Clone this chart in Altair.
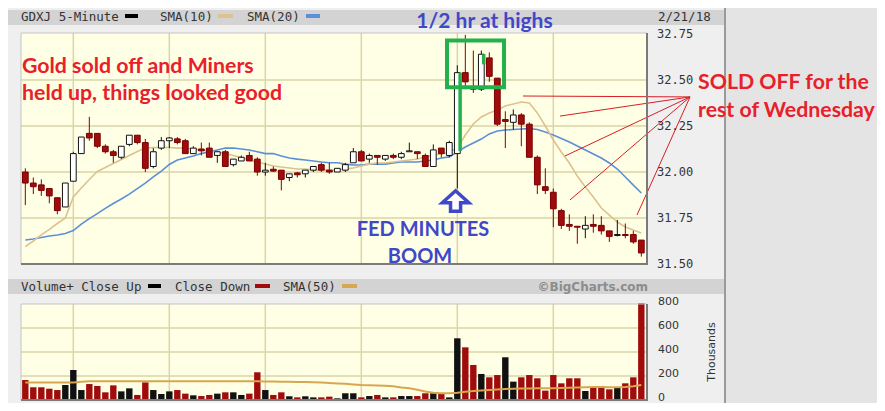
import altair as alt
import pandas as pd

# ---------------- data ----------------
opens = [32.00, 31.94, 31.93, 31.91, 31.86, 31.81, 31.95, 32.10, 32.21, 32.21,
         32.14, 32.11, 32.08, 32.15, 32.20, 32.16, 32.03, 32.13, 32.17, 32.18,
         32.17, 32.10, 32.125, 32.13, 32.09, 32.11, 32.04, 32.06, 32.09, 32.07,
         32.00, 32.015, 32.01, 31.97, 31.995, 31.99, 32.01, 32.04, 32.01, 32.00,
         32.01, 32.05, 32.11, 32.07, 32.09, 32.07, 32.09, 32.08, 32.11, 32.11,
         32.09, 32.03, 32.13, 32.09, 32.10, 32.54, 32.455, 32.45, 32.62, 32.51,
         32.285, 32.27, 32.31, 32.26, 32.08, 31.92, 31.89, 31.79, 31.715, 31.705,
         31.69, 31.715, 31.71, 31.68, 31.655, 31.66, 31.66, 31.63]
highs = [32.02, 31.97, 31.96, 31.91, 31.86, 31.94, 32.11, 32.19, 32.30, 32.21,
         32.15, 32.12, 32.14, 32.20, 32.20, 32.18, 32.13, 32.19, 32.19, 32.19,
         32.18, 32.14, 32.16, 32.16, 32.11, 32.12, 32.07, 32.09, 32.11, 32.08,
         32.05, 32.03, 32.01, 31.99, 32.00, 32.01, 32.03, 32.05, 32.05, 32.02,
         32.05, 32.13, 32.12, 32.10, 32.09, 32.09, 32.10, 32.11, 32.16, 32.11,
         32.10, 32.15, 32.13, 32.17, 32.58, 32.745, 32.66, 32.66, 32.65, 32.51,
         32.33, 32.34, 32.32, 32.27, 32.09, 32.02, 31.91, 31.80, 31.77, 31.705,
         31.76, 31.77, 31.76, 31.68, 31.74, 31.72, 31.68, 31.63]
lows = [31.82, 31.88, 31.87, 31.83, 31.77, 31.81, 31.95, 32.10, 32.17, 32.13,
        32.10, 32.05, 32.07, 32.14, 32.15, 32.00, 32.02, 32.12, 32.13, 32.15,
        32.10, 32.10, 32.09, 32.08, 32.05, 32.03, 32.03, 32.06, 32.06, 31.98,
        31.98, 32.00, 31.90, 31.95, 31.97, 31.97, 32.00, 32.00, 31.99, 32.00,
        32.00, 32.05, 32.06, 32.05, 32.04, 32.06, 32.07, 32.07, 32.11, 32.07,
        32.03, 32.03, 32.08, 32.08, 31.91, 32.45, 32.43, 32.44, 32.49, 32.25,
        32.13, 32.23, 32.14, 32.08, 31.88, 31.88, 31.70, 31.69, 31.68, 31.61,
        31.64, 31.67, 31.66, 31.62, 31.65, 31.64, 31.61, 31.54]
closes = [31.94, 31.92, 31.90, 31.87, 31.79, 31.94, 32.10, 32.19, 32.185, 32.14,
          32.11, 32.09, 32.14, 32.20, 32.16, 32.02, 32.11, 32.17, 32.185, 32.16,
          32.10, 32.13, 32.115, 32.08, 32.11, 32.03, 32.07, 32.08, 32.06, 32.00,
          32.01, 32.005, 31.96, 31.99, 31.985, 32.01, 32.03, 32.01, 32.00, 32.02,
          32.04, 32.11, 32.06, 32.09, 32.08, 32.09, 32.08, 32.10, 32.115, 32.10,
          32.03, 32.12, 32.10, 32.16, 32.54, 32.49, 32.45, 32.64, 32.52, 32.26,
          32.275, 32.31, 32.26, 32.08, 31.93, 31.90, 31.80, 31.71, 31.705, 31.70,
          31.71, 31.705, 31.68, 31.65, 31.66, 31.655, 31.62, 31.56]
sma10 = [31.594, 31.625, 31.658, 31.688, 31.72, 31.75, 31.864, 31.913, 31.959, 32.003,
         32.024, 32.046, 32.068, 32.09, 32.111, 32.13, 32.133, 32.133, 32.133, 32.13,
         32.13, 32.125, 32.12, 32.114, 32.109, 32.101, 32.09, 32.079, 32.065, 32.054,
         32.043, 32.033, 32.027, 32.022, 32.016, 32.016, 32.011, 32.011, 32.011, 32.011,
         32.016, 32.022, 32.033, 32.043, 32.049, 32.049, 32.054, 32.06, 32.065, 32.071,
         32.082, 32.092, 32.098, 32.109, 32.13, 32.201, 32.261, 32.299, 32.321, 32.337,
         32.359, 32.37, 32.38, 32.375, 32.321, 32.25, 32.174, 32.109, 32.049, 31.978,
         31.918, 31.864, 31.804, 31.766, 31.728, 31.701, 31.685, 31.668]
sma20 = [31.63, 31.636, 31.644, 31.652, 31.658, 31.666, 31.682, 31.717, 31.747, 31.774,
         31.802, 31.829, 31.853, 31.88, 31.91, 31.94, 31.973, 32.005, 32.041, 32.065,
         32.076, 32.087, 32.10, 32.11, 32.12, 32.13, 32.13, 32.125, 32.12, 32.11,
         32.10, 32.10, 32.087, 32.076, 32.07, 32.065, 32.06, 32.054, 32.05, 32.05,
         32.043, 32.038, 32.038, 32.043, 32.043, 32.043, 32.049, 32.054, 32.054, 32.054,
         32.06, 32.065, 32.076, 32.082, 32.109, 32.136, 32.158, 32.179, 32.207, 32.223,
         32.228, 32.231, 32.234, 32.236, 32.231, 32.217, 32.201, 32.182, 32.163, 32.141,
         32.12, 32.098, 32.076, 32.049, 32.016, 31.973, 31.929, 31.886]
volumes = [167, 106, 106, 94, 83, 125, 250, 83, 133, 117,
           64, 122, 72, 97, 42, 147, 83, 50, 72, 83,
           53, 39, 33, 42, 53, 64, 64, 42, 53, 231,
           83, 42, 64, 31, 22, 31, 22, 22, 28, 14,
           56, 56, 22, 33, 42, 22, 22, 33, 33, 33,
           56, 56, 56, 22, 514, 439, 292, 217, 189, 208,
           356, 153, 189, 208, 181, 78, 208, 139, 181, 181,
           75, 103, 111, 89, 106, 139, 189, 806]
vol_sma50 = [145, 145, 145, 145, 145, 145, 145, 152, 157, 157,
             157, 157, 157, 157, 157, 157, 157, 157, 157, 157,
             157, 157, 157, 157, 157, 157, 157, 157, 157, 157,
             155, 154, 153, 152, 150, 150, 148, 146, 142, 138,
             135, 130, 125, 122, 120, 118, 115, 105, 98, 85,
             70, 60, 57, 56, 60, 68, 75, 80, 84, 88,
             92, 94, 95, 96, 97, 97, 98, 100, 102, 104,
             106, 108, 108, 107, 106, 108, 115, 125]
price_ticks = [31.50, 31.75, 32.00, 32.25, 32.50, 32.75]
volume_ticks = [0, 200, 400, 600, 800]
hour_bars = [6, 18, 30, 42, 54, 66]   # 10:00 ... 15:00 bars

# ---------------- styling ----------------
W, H = 626, 367
P_TOP, P_BOT = 0, 231
V_TOP, V_BOT = 271, 367
CREAM = "#ffffe6"
GRID = "#d9d5a6"
RED = "#a00c0c"
TAN = "#dcc28c"
BLUE = "#5b8fd8"
VTAN = "#d8a650"
ANN_RED = "#e8202a"
ANN_BLUE = "#4048c8"
ANN_GREEN = "#22b14c"
MONO = "DejaVu Sans Mono"

n = len(closes)
df = pd.DataFrame({"i": list(range(n)), "open": opens, "high": highs, "low": lows,
                   "close": closes, "sma10": sma10, "sma20": sma20,
                   "volume": volumes, "vsma": vol_sma50})
up = df["close"] > df["open"]
df["blo"] = df[["open", "close"]].min(axis=1)
df["bhi"] = df[["open", "close"]].max(axis=1)
df["fill"] = ["#ffffff" if u else RED for u in up]
df["edge"] = ["#111111" if u else "#780000" for u in up]
df["wick"] = ["#111111" if u else "#8b0000" for u in up]
prev = df["close"].shift(1)
df["vfill"] = ["#111111" if (p == p and c > p) else RED for c, p in zip(df["close"], prev)]

xs = alt.Scale(domain=[-0.54, 77.71], nice=False, zero=False)
ps = alt.Scale(domain=[31.5, 32.75], range=[P_BOT, P_TOP + 1], nice=False, zero=False)
vs = alt.Scale(domain=[0, 800], range=[V_BOT, V_TOP], nice=False, zero=False)

one = alt.Chart(pd.DataFrame({"k": [0]}))


def box(x0, x1, y0, y1, fill):
    return one.mark_rect(fill=fill).encode(x=alt.value(x0), x2=alt.value(x1),
                                           y=alt.value(y0), y2=alt.value(y1))


def seg(x0, x1, y0, y1, color, w):
    return one.mark_rule(color=color, strokeWidth=w).encode(
        x=alt.value(x0), x2=alt.value(x1), y=alt.value(y0), y2=alt.value(y1))


def txt(s, x, y, font, size, color, weight="normal", align="left", angle=0):
    kw = dict(text=s, font=font, fontSize=size, color=color, fontWeight=weight,
              align=align, baseline="alphabetic")
    if angle:
        kw["angle"] = angle
        kw["baseline"] = "middle"
    return one.mark_text(**kw).encode(x=alt.value(x), y=alt.value(y))


# ---------------- background / frame ----------------
bg = alt.layer(
    box(-13, 704, -25, 372, "#efefef"),
    box(-13, 704, -23, -8, "#d3d3d3"),
    box(-13, 704, 246, 261, "#d3d3d3"),
    box(0, W, P_TOP, P_BOT, CREAM),
    box(0, W, V_TOP, V_BOT, CREAM),
    seg(704, 704, -25, 372, "#9a9a9a", 2),
)

xenc = alt.X("i:Q", scale=xs, axis=None)
hours = pd.DataFrame({"h": hour_bars})

# ---------------- price panel ----------------
pgrid_h = alt.Chart(pd.DataFrame({"p": price_ticks[1:-1]})).mark_rule(
    color=GRID, strokeWidth=1.5).encode(
    y=alt.Y("p:Q", scale=ps, axis=None), x=alt.value(0), x2=alt.value(W))
pgrid_v = alt.Chart(hours).mark_rule(color=GRID, strokeWidth=1.5).encode(
    x=alt.X("h:Q", scale=xs, axis=None), y=alt.value(P_TOP), y2=alt.value(P_BOT))
plabels = alt.Chart(pd.DataFrame({"p": price_ticks})).transform_calculate(
    lab="format(datum.p, '.2f')").mark_text(
    font=MONO, fontSize=12, color="#333333", align="left", baseline="middle").encode(
    y=alt.Y("p:Q", scale=ps, axis=None), x=alt.value(W + 10), text="lab:N")
wicks = alt.Chart(df).mark_rule(strokeWidth=1).encode(
    x=xenc, y=alt.Y("low:Q", scale=ps, axis=None), y2="high:Q",
    color=alt.Color("wick:N", scale=None))
bodies = alt.Chart(df).transform_calculate(
    bx0="datum.i - 0.36", bx1="datum.i + 0.36").mark_rect(strokeWidth=1).encode(
    x=alt.X("bx0:Q", scale=xs, axis=None), x2="bx1:Q",
    y=alt.Y("blo:Q", scale=ps, axis=None), y2="bhi:Q",
    fill=alt.Fill("fill:N", scale=None), stroke=alt.Stroke("edge:N", scale=None))
line10 = alt.Chart(df).mark_line(color=TAN, strokeWidth=1.6).encode(
    x=xenc, y=alt.Y("sma10:Q", scale=ps, axis=None))
line20 = alt.Chart(df).mark_line(color=BLUE, strokeWidth=1.6).encode(
    x=xenc, y=alt.Y("sma20:Q", scale=ps, axis=None))

# annotations anchored on the data
green_box = alt.Chart(pd.DataFrame({"x0": [52.71], "x1": [59.84], "y0": [32.46], "y1": [32.714]})).mark_rect(
    fillOpacity=0, stroke=ANN_GREEN, strokeWidth=4).encode(
    x=alt.X("x0:Q", scale=xs, axis=None), x2="x1:Q",
    y=alt.Y("y0:Q", scale=ps, axis=None), y2="y1:Q")
green_marks = alt.Chart(pd.DataFrame({"x": [54.35, 57.3], "a": [32.115, 32.585], "b": [32.54, 32.64]})).mark_rule(
    color=ANN_GREEN, strokeWidth=3.5).encode(
    x=alt.X("x:Q", scale=xs, axis=None), y=alt.Y("a:Q", scale=ps, axis=None), y2="b:Q")
rays = alt.Chart(pd.DataFrame({
    "x": [83.09] * 5, "y": [32.408] * 5,
    "x2": [62.21, 66.84, 67.46, 68.09, 76.46],
    "y2": [32.413, 32.304, 32.087, 31.848, 31.766]})).mark_rule(
    color="#d81e26", strokeWidth=1).encode(
    x=alt.X("x:Q", scale=xs, axis=None), x2="x2:Q",
    y=alt.Y("y:Q", scale=ps, axis=None), y2="y2:Q")
arrow_path = "M0,-0.78L1,0.12L0.38,0.12L0.38,0.76L-0.38,0.76L-0.38,0.12L-1,0.12Z"
arrow = alt.Chart(pd.DataFrame({"x": [53.78], "y": [31.842]})).mark_point(
    shape=arrow_path, size=700, filled=True, fill="#ffffff", stroke=ANN_BLUE,
    strokeWidth=3.5, opacity=1).encode(
    x=alt.X("x:Q", scale=xs, axis=None), y=alt.Y("y:Q", scale=ps, axis=None))

price = alt.layer(pgrid_h, pgrid_v, line20, line10, wicks, bodies,
                  green_marks, green_box, rays, arrow, plabels)

# ---------------- volume panel ----------------
vgrid_h = alt.Chart(pd.DataFrame({"v": volume_ticks[1:-1]})).mark_rule(
    color=GRID, strokeWidth=1.5).encode(
    y=alt.Y("v:Q", scale=vs, axis=None), x=alt.value(0), x2=alt.value(W))
vgrid_v = alt.Chart(hours).mark_rule(color=GRID, strokeWidth=1.5).encode(
    x=alt.X("h:Q", scale=xs, axis=None), y=alt.value(V_TOP), y2=alt.value(V_BOT))
vlabels = alt.Chart(pd.DataFrame({"v": volume_ticks})).transform_calculate(
    lab="format(datum.v, 'd')").mark_text(
    font="DejaVu Sans", fontSize=11, color="#333333", align="left", baseline="middle",
    dy=-2).encode(
    y=alt.Y("v:Q", scale=vs, axis=None), x=alt.value(W + 11), text="lab:N")
vbars = alt.Chart(df).transform_calculate(
    vx0="datum.i - 0.4", vx1="datum.i + 0.4").mark_rect().encode(
    x=alt.X("vx0:Q", scale=xs, axis=None), x2="vx1:Q",
    y=alt.Y("volume:Q", scale=vs, axis=None), y2=alt.datum(0),
    fill=alt.Fill("vfill:N", scale=None))
vline = alt.Chart(df).mark_line(color=VTAN, strokeWidth=2).encode(
    x=xenc, y=alt.Y("vsma:Q", scale=vs, axis=None))
volume = alt.layer(vgrid_h, vgrid_v, vbars, vline, vlabels)

# ---------------- borders, headers, texts ----------------
fg = alt.layer(
    seg(0, W, P_TOP, P_TOP, "#c4c4c4", 1), seg(0, 0, P_TOP, P_BOT, "#c4c4c4", 1),
    seg(0, W + 1, P_BOT, P_BOT, "#7a7a7a", 2), seg(W, W, P_TOP, P_BOT, "#7a7a7a", 2),
    seg(0, W, V_TOP, V_TOP, "#c4c4c4", 1), seg(0, 0, V_TOP, V_BOT, "#c4c4c4", 1),
    seg(0, W + 1, V_BOT, V_BOT, "#7a7a7a", 2), seg(W, W, V_TOP, V_BOT, "#7a7a7a", 2),
    # price header
    txt("GDXJ 5-Minute", 0, -12.5, MONO, 12.5, "#333333"),
    box(104, 117, -19, -15, "#000000"),
    txt("SMA(10)", 139, -12.5, MONO, 12.5, "#333333"),
    box(197, 212, -19, -15, TAN),
    txt("SMA(20)", 226, -12.5, MONO, 12.5, "#333333"),
    box(285, 299, -19, -15, BLUE),
    txt("2/21/18", 637, -12.5, MONO, 12.5, "#333333"),
    # volume header
    txt("Volume+ Close Up", 0, 257.5, MONO, 12.5, "#333333"),
    box(127, 140, 251, 255, "#000000"),
    txt("Close Down", 154, 257.5, MONO, 12.5, "#333333"),
    box(234, 249, 251, 255, RED),
    txt("SMA(50)", 262, 257.5, MONO, 12.5, "#333333"),
    box(321, 336, 251, 255, VTAN),
    txt("\u00a9BigCharts.com", 627, 258, "DejaVu Sans", 12, "#8c8c8c", weight="bold", align="right"),
    txt("Thousands", 691, 319, "DejaVu Sans", 11, "#333333", align="center", angle=270),
    # annotations
    txt("Gold sold off and Miners", 1, 40, "Lato", 21.3, ANN_RED, weight="bold"),
    txt("held up, things looked good", 1, 67, "Lato", 21.3, ANN_RED, weight="bold"),
    txt("1/2 hr at highs", 463.5, -5, "Lato", 21, ANN_BLUE, weight="bold", align="center"),
    txt("FED MINUTES", 402, 203, "Lato", 20, ANN_BLUE, weight="bold", align="center"),
    txt("BOOM", 399, 229.5, "Lato", 20, ANN_BLUE, weight="bold", align="center"),
    txt("SOLD OFF for the", 677, 56, "Lato", 21.3, ANN_RED, weight="bold"),
    txt("rest of Wednesday", 677, 84, "Lato", 21.3, ANN_RED, weight="bold"),
)

chart = alt.layer(bg, price, volume, fg).resolve_scale(y="independent").properties(
    width=W, height=H,
    autosize=alt.AutoSizeParams(type="none"),
    padding={"left": 13, "top": 25, "right": 230, "bottom": 3},
    background="#e4e4e4",
).configure_view(strokeWidth=0)

chart.save("out.html", embed_options={"renderer": "svg", "actions": False})
